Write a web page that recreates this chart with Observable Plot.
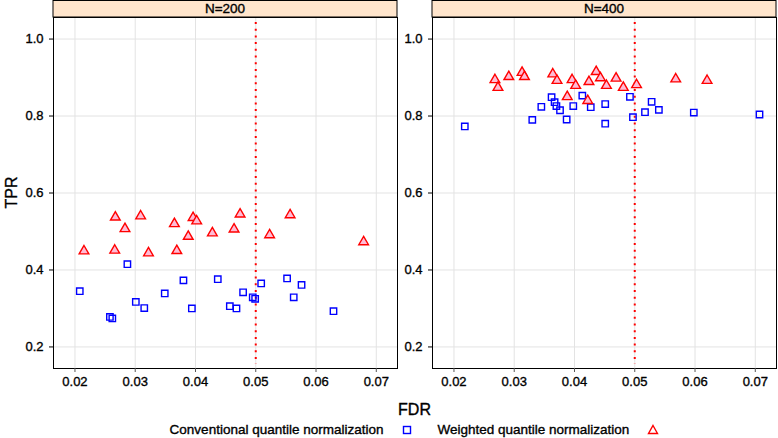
<!DOCTYPE html>
<html><head><meta charset="utf-8">
<script src="https://cdn.jsdelivr.net/npm/d3@7"></script>
<script src="https://cdn.jsdelivr.net/npm/@observablehq/plot@0.6"></script>
<style>
body{margin:0;background:#fff;font-family:"Liberation Sans",Arial,sans-serif;}
#chart{width:778px;height:418px;}
#chart text{stroke:#000;stroke-width:0.35px;}
#legend{width:725px;height:17px;padding:3px 0 0 52px;display:flex;align-items:center;justify-content:center;font-size:13.5px;color:#000;-webkit-text-stroke:0.35px #000;}
#legend span{display:inline-flex;align-items:center;}
#legend svg{margin-left:18px;}
</style></head><body>
<div id="chart"></div>
<div id="legend"></div>
<script>
const panels = ["N=200", "N=400"];
const methods = ["Conventional quantile normalization", "Weighted quantile normalization"];
const xTicks = [0.02, 0.03, 0.04, 0.05, 0.06, 0.07];
const yTicks = [0.2, 0.4, 0.6, 0.8, 1.0];
const fdrCutoff = [0.05];

const conv200FDR = [0.0208,0.0287,0.0258,0.0262,0.0301,0.0315,0.0349,0.0380,0.0394,0.0437,0.0457,0.0468,0.0479,0.0495,0.0499,0.0509,0.0552,0.0563,0.0576,0.0629];
const conv200TPR = [0.345,0.415,0.278,0.274,0.317,0.301,0.339,0.373,0.300,0.376,0.306,0.300,0.342,0.329,0.325,0.365,0.378,0.329,0.361,0.293];
const wqn200FDR = [0.0215,0.0267,0.0266,0.0283,0.0309,0.0322,0.0365,0.0369,0.0388,0.0396,0.0402,0.0428,0.0464,0.0474,0.0523,0.0557,0.0679];
const wqn200TPR = [0.449,0.537,0.451,0.507,0.540,0.444,0.520,0.450,0.487,0.536,0.527,0.496,0.506,0.545,0.491,0.543,0.473];
const conv400FDR = [0.0218,0.0330,0.0345,0.0362,0.0367,0.0370,0.0376,0.0387,0.0398,0.0413,0.0427,0.0451,0.0451,0.0492,0.0497,0.0517,0.0528,0.0540,0.0598,0.0707];
const conv400TPR = [0.773,0.790,0.824,0.849,0.836,0.826,0.815,0.791,0.826,0.853,0.823,0.831,0.780,0.850,0.797,0.810,0.837,0.816,0.809,0.804];
const wqn400FDR = [0.0268,0.0273,0.0291,0.0313,0.0317,0.0364,0.0371,0.0388,0.0396,0.0402,0.0422,0.0424,0.0436,0.0443,0.0453,0.0469,0.0481,0.0503,0.0568,0.0620];
const wqn400TPR = [0.894,0.874,0.902,0.913,0.902,0.909,0.892,0.850,0.894,0.879,0.840,0.889,0.915,0.899,0.879,0.898,0.874,0.881,0.896,0.892];

const rows = [];
function add(panel, method, fdr, tpr) { fdr.forEach((f, i) => rows.push({panel, method, fdr: f, tpr: tpr[i]})); }
add(panels[0], methods[0], conv200FDR, conv200TPR);
add(panels[0], methods[1], wqn200FDR, wqn200TPR);
add(panels[1], methods[0], conv400FDR, conv400TPR);
add(panels[1], methods[1], wqn400FDR, wqn400TPR);

const FONT = "'Liberation Sans', Arial, sans-serif";
const chart = Plot.plot({
  width: 778, height: 418,
  marginTop: 17, marginBottom: 50, marginLeft: 52, marginRight: 1,
  style: {fontFamily: FONT, fontSize: "13px", background: "white", color: "black"},
  fx: {domain: panels, paddingInner: 0.0921, paddingOuter: 0, axis: null, label: null},
  x: {domain: [0.01644, 0.07352], label: null, inset: 0},
  y: {domain: [0.144, 1.056], label: null},
  marks: [
    Plot.gridX(xTicks, {stroke: "#e3e3e3", strokeOpacity: 1}),
    Plot.gridY(yTicks, {stroke: "#e3e3e3", strokeOpacity: 1}),
    Plot.ruleX(fdrCutoff, {stroke: "red", strokeWidth: 2, strokeDasharray: "2,4.7", insetTop: 5, insetBottom: 4}),
    Plot.dot(rows.filter(d => d.method === methods[0]), {fx: "panel", x: "fdr", y: "tpr", symbol: "square", r: 3.6, stroke: "blue", strokeWidth: 1.4, fill: "none"}),
    Plot.dot(rows.filter(d => d.method === methods[1]), {fx: "panel", x: "fdr", y: "tpr", symbol: "triangle", r: 3.6, stroke: "red", strokeWidth: 1.4, fill: "#ffbcd6"}),
    Plot.frame({stroke: "black"}),
    Plot.axisX(xTicks, {tickSize: 4, tickPadding: 4, stroke: "#555", fill: "black", tickFormat: d3.format(".2f"), fontSize: 13, label: null}),
    Plot.axisY(yTicks, {facetAnchor: null, tickSize: 4, tickPadding: 6, stroke: "black", fill: "black", tickFormat: d3.format(".1f"), fontSize: 13, label: null})
  ]
});
document.getElementById("chart").appendChild(chart);

const svg = d3.select(chart);
const fxS = chart.scale("fx");
const yS = chart.scale("y");
const panelTop = Math.min(...yS.range);
const panelBottom = Math.max(...yS.range);
for (const p of panels) {
  const x0 = fxS.apply(p);
  const bw = fxS.bandwidth;
  svg.append("rect").attr("x", x0).attr("y", 0.5).attr("width", bw).attr("height", panelTop - 0.5)
    .attr("fill", "#ffe5cc").attr("stroke", "black");
  svg.append("text").attr("x", x0 + bw / 2).attr("y", panelTop / 2).attr("dy", "0.36em")
    .attr("text-anchor", "middle").attr("font-family", FONT).attr("font-size", 13.5).attr("fill", "black").text(p);
}
const xr0 = fxS.apply(panels[0]);
const xr1 = fxS.apply(panels[1]) + fxS.bandwidth;
svg.append("text").attr("x", (xr0 + xr1) / 2).attr("y", 415).attr("text-anchor", "middle")
  .attr("font-family", FONT).attr("font-size", 16).attr("fill", "black").text("FDR");
const ymid = (panelTop + panelBottom) / 2;
svg.append("text").attr("transform", `translate(17,${ymid}) rotate(-90)`).attr("text-anchor", "middle")
  .attr("font-family", FONT).attr("font-size", 16).attr("fill", "black").text("TPR");

const legend = d3.select("#legend");
const l1 = legend.append("span");
l1.append("span").text(methods[0]);
l1.append("svg").attr("width", 10).attr("height", 10).append("rect").attr("x", 1.5).attr("y", 1.5).attr("width", 7).attr("height", 7).attr("fill", "none").attr("stroke", "blue").attr("stroke-width", 1.4);
const l2 = legend.append("span").style("margin-left", "26px");
l2.append("span").text(methods[1]);
l2.append("svg").attr("width", 12).attr("height", 11).append("path").attr("d", "M6,1.5L10.5,9.5L1.5,9.5Z").attr("fill", "none").attr("stroke", "red").attr("stroke-width", 1.4);
</script>
</body></html>
